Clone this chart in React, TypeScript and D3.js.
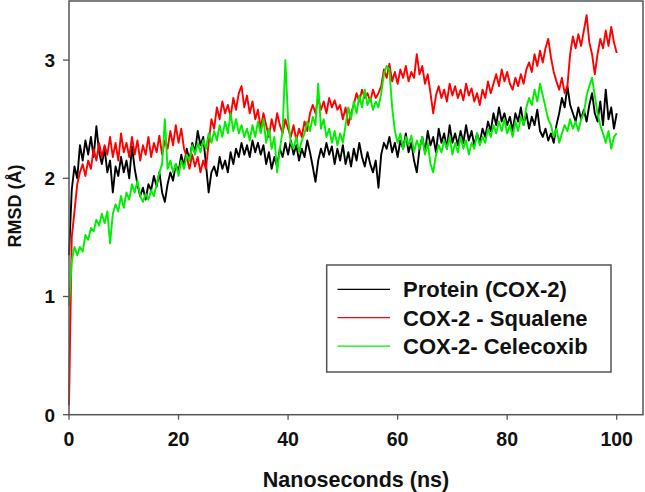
import React from "react";
import * as d3 from "d3";

const timeStep = 0.5; // ns between samples
const xTicks = [0, 20, 40, 60, 80, 100];
const yTicks = [0, 1, 2, 3];

const protein = [
  1.35, 1.9, 2.1, 2.0, 2.28, 2.15, 2.32, 2.2, 2.35, 2.18,
  2.44, 2.22, 2.12, 2.25, 2.05, 2.15, 1.88, 2.1, 2.02, 2.18,
  2.05, 2.15, 2.0, 2.27, 2.08, 1.95, 1.85, 1.92, 1.82, 1.95,
  1.9, 2.02, 1.93, 2.05, 1.88, 1.8, 1.95, 2.05, 1.98, 2.12,
  2.05, 2.2, 2.1, 2.25, 2.15, 2.3, 2.22, 2.4, 2.28, 2.35,
  2.12, 1.88, 2.05, 2.1, 2.02, 2.18, 2.08, 2.15, 2.05, 2.22,
  2.12, 2.25, 2.18, 2.3, 2.2, 2.28, 2.18, 2.32, 2.22, 2.3,
  2.2, 2.28, 2.12, 2.22, 2.08, 2.18, 2.1, 2.25, 2.18, 2.3,
  2.2, 2.32, 2.2, 2.28, 2.15, 2.25, 2.18, 2.32, 2.22, 2.1,
  1.97, 2.15, 2.25, 2.18, 2.3, 2.2, 2.27, 2.12, 2.25, 2.15,
  2.28, 2.12, 2.22, 2.1, 2.25, 2.15, 2.3, 2.18, 2.1, 2.22,
  2.12, 2.05, 2.15, 1.92, 2.2, 2.3, 2.25, 2.35, 2.22, 2.3,
  2.18, 2.32, 2.25, 2.38, 2.22, 2.3, 2.15, 2.05, 2.25, 2.35,
  2.22, 2.4, 2.28, 2.35, 2.22, 2.42, 2.3, 2.38, 2.25, 2.45,
  2.3, 2.38, 2.28, 2.4, 2.3, 2.45, 2.32, 2.4, 2.28, 2.38,
  2.3, 2.42, 2.35, 2.48, 2.4, 2.55, 2.45, 2.6, 2.48, 2.55,
  2.45, 2.52, 2.4, 2.55, 2.48, 2.6, 2.45, 2.55, 2.42, 2.52,
  2.45, 2.58, 2.4, 2.35, 2.42, 2.32, 2.38, 2.3, 2.45, 2.55,
  2.68, 2.6, 2.78, 2.62, 2.55, 2.48, 2.6, 2.5, 2.58, 2.48,
  2.62, 2.72, 2.55, 2.48, 2.65, 2.45, 2.75, 2.5, 2.6, 2.42,
  2.55,
];

const squalene = [
  0.08, 1.5, 1.72, 1.95, 2.05, 2.12, 2.02, 2.15, 2.08, 2.25,
  2.15, 2.3, 2.18, 2.28, 2.2, 2.35, 2.18, 2.3, 2.15, 2.38,
  2.22, 2.3, 2.18, 2.35, 2.2, 2.32, 2.15, 2.28, 2.2, 2.35,
  2.18, 2.3, 2.22, 2.36, 2.2, 2.32, 2.25, 2.4, 2.28, 2.45,
  2.3, 2.42, 2.25, 2.18, 2.08, 2.2, 2.1, 2.18, 2.05, 2.15,
  2.08, 2.3, 2.5, 2.42, 2.6, 2.5, 2.65, 2.55, 2.62, 2.52,
  2.68, 2.58, 2.72, 2.78, 2.6, 2.7, 2.55, 2.65, 2.5, 2.58,
  2.42, 2.55, 2.45, 2.35, 2.5, 2.4, 2.55, 2.45, 2.38, 2.5,
  2.42, 2.35, 2.45, 2.32, 2.42, 2.35, 2.48, 2.4, 2.55, 2.62,
  2.55, 2.68, 2.58, 2.65, 2.55, 2.68, 2.6, 2.66, 2.58, 2.62,
  2.5, 2.6, 2.45, 2.55, 2.62, 2.72, 2.65, 2.75, 2.68, 2.72,
  2.65, 2.75, 2.68, 2.72, 2.78, 2.92, 2.85, 2.97, 2.82, 2.9,
  2.8, 2.92, 2.85, 2.95, 2.82, 2.9, 2.85, 3.05, 2.88, 2.95,
  2.8, 2.88, 2.72, 2.55, 2.7, 2.78, 2.68, 2.75, 2.65, 2.8,
  2.7, 2.78, 2.68, 2.75, 2.66, 2.8, 2.7, 2.76, 2.65, 2.72,
  2.62, 2.75, 2.68, 2.82, 2.72, 2.8, 2.88, 2.78, 2.92, 2.82,
  2.9, 2.8, 2.75, 2.85, 2.78, 2.88, 2.8, 2.92, 2.98, 2.9,
  3.05, 2.95, 3.08, 2.98, 3.1, 3.18, 3.02, 2.9, 2.82, 2.75,
  2.85, 2.72, 2.78, 3.05, 3.2, 3.1, 3.22, 3.12, 3.25, 3.38,
  3.15, 3.05, 2.88, 3.05, 3.18, 3.1, 3.25, 3.12, 3.28, 3.15,
  3.06,
];

const celecoxib = [
  0.92, 1.3, 1.42, 1.35, 1.42, 1.38, 1.52, 1.48, 1.58, 1.55,
  1.65, 1.6, 1.7, 1.62, 1.72, 1.45, 1.7, 1.78, 1.72, 1.85,
  1.75, 1.88, 1.82, 1.95, 1.88, 1.98, 1.85, 1.8, 1.87, 1.82,
  1.9, 1.85, 1.95, 2.05, 2.12, 2.5, 2.08, 2.15, 2.05, 2.12,
  2.02, 2.15, 2.08, 2.2, 2.15, 2.28, 2.2, 2.3, 2.22, 2.32,
  2.25, 2.38, 2.3, 2.4, 2.32, 2.45, 2.35, 2.48, 2.38, 2.55,
  2.4, 2.5, 2.38, 2.45, 2.35, 2.42, 2.32, 2.45, 2.35, 2.48,
  2.38, 2.5, 2.3, 2.42, 2.25, 2.35, 2.05, 2.25, 2.4, 3.0,
  2.5, 2.3, 2.25, 2.35, 2.22, 2.32, 2.38, 2.48, 2.4, 2.52,
  2.45, 2.8, 2.42, 2.5, 2.35, 2.42, 2.3, 2.4, 2.28, 2.38,
  2.3, 2.45, 2.6, 2.5, 2.65, 2.55, 2.7, 2.6, 2.75, 2.62,
  2.68, 2.58, 2.65, 2.6, 2.72, 2.88, 2.95, 2.92, 2.6, 2.4,
  2.3, 2.38, 2.25, 2.35, 2.28, 2.36, 2.22, 2.32, 2.25, 2.35,
  2.2, 2.3, 2.12, 2.05, 2.2, 2.28, 2.22, 2.32, 2.25, 2.35,
  2.2, 2.3, 2.22, 2.35, 2.25, 2.32, 2.2, 2.3, 2.25, 2.38,
  2.28, 2.35, 2.3, 2.42, 2.35, 2.45, 2.38, 2.48, 2.4, 2.5,
  2.38, 2.45, 2.35, 2.48, 2.4, 2.52, 2.45, 2.6, 2.68, 2.62,
  2.75, 2.65, 2.8, 2.7, 2.6, 2.5, 2.45, 2.35, 2.42, 2.3,
  2.38, 2.45, 2.4, 2.5, 2.42, 2.48, 2.4, 2.5, 2.55, 2.7,
  2.78, 2.85, 2.7, 2.55, 2.45, 2.38, 2.3, 2.4, 2.25, 2.35,
  2.38,
];

const seriesNames = ["Protein (COX-2)", "COX-2 - Squalene", "COX-2- Celecoxib"];
const seriesColors = ["#000000", "#ff0000", "#00ee00"];
const seriesValues = [protein, squalene, celecoxib];

const W = 645;
const H = 492;
const FONT = "'Liberation Sans', Arial, Helvetica, sans-serif";

export default function App() {
  const x = d3.scaleLinear().domain([0, 104.8]).range([69, 643]);
  const y = d3.scaleLinear().domain([0, 3.5]).range([414.7, 1]);
  const line = d3
    .line<number>()
    .x((_, i) => x(i * timeStep))
    .y((d) => y(d));

  const frameColor = "#555555";

  return (
    <svg
      width={W}
      height={H}
      style={{ position: "absolute", left: 0, top: 0, background: "#fff" }}
      fontFamily={FONT}
    >
      <rect x={0} y={0} width={W} height={H} fill="#fff" />
      {seriesValues.map((vals, k) => (
        <path
          key={k}
          d={line(vals) || ""}
          fill="none"
          stroke={seriesColors[k]}
          strokeWidth={1.9}
          strokeLinejoin="round"
        />
      ))}
      <rect
        x={x(0)}
        y={y(3.5)}
        width={x(104.8) - x(0)}
        height={y(0) - y(3.5)}
        fill="none"
        stroke={frameColor}
        strokeWidth={1.5}
      />
      {xTicks.map((t) => (
        <g key={"x" + t}>
          <line x1={x(t)} x2={x(t)} y1={y(0)} y2={y(0) + 5} stroke={frameColor} strokeWidth={1.3} />
          <text
            x={x(t)}
            y={y(0) + 31}
            textAnchor="middle"
            fontSize={19.5}
            fontWeight="bold"
            fill="#111"
          >
            {t}
          </text>
        </g>
      ))}
      {yTicks.map((t) => (
        <g key={"y" + t}>
          <line x1={x(0) - 6} x2={x(0)} y1={y(t)} y2={y(t)} stroke={frameColor} strokeWidth={1.3} />
          <text
            x={55}
            y={y(t) + 6.8}
            textAnchor="end"
            fontSize={19}
            fontWeight="bold"
            fill="#111"
          >
            {t}
          </text>
        </g>
      ))}
      <text x={356} y={486.5} textAnchor="middle" fontSize={21.5} fontWeight="bold" fill="#111">
        Nanoseconds (ns)
      </text>
      <text
        transform="translate(21,206) rotate(-90)"
        textAnchor="middle"
        fontSize={18}
        fontWeight="bold"
        fill="#111"
      >
        RMSD (Å)
      </text>
      <rect x={326.7} y={265} width={611 - 326.7} height={372 - 265} fill="#fff" stroke={frameColor} strokeWidth={1.5} />
      {seriesNames.map((name, k) => {
        const ly = 289.3 + k * 28.4;
        return (
          <g key={"lg" + k}>
            <line x1={337.5} x2={390} y1={ly} y2={ly} stroke={seriesColors[k]} strokeWidth={1.3} />
            <text x={403} y={ly + 7.8} fontSize={22} fontWeight="bold" fill="#111">
              {name}
            </text>
          </g>
        );
      })}
    </svg>
  );
}
